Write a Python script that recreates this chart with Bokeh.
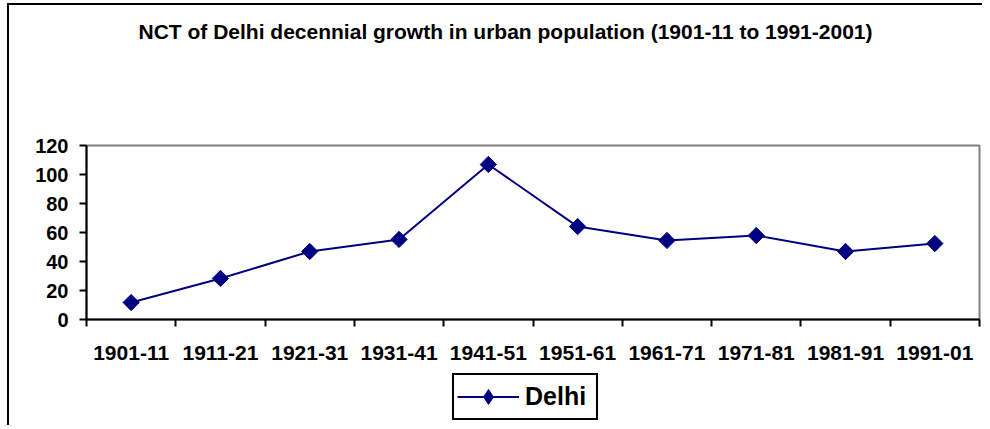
import math
from bokeh.plotting import figure
from bokeh.layouts import column
from bokeh.models import Range1d, FixedTicker, Legend, LegendItem, Label
from bokeh.embed import file_html
from bokeh.resources import INLINE

periods = ["1901-11", "1911-21", "1921-31", "1931-41", "1941-51",
           "1951-61", "1961-71", "1971-81", "1981-91", "1991-01"]
growth = [11.7, 28.3, 46.9, 55.2, 106.9, 64.1, 54.5, 57.9, 46.9, 52.4]
series_name = "Delhi"
title_text = "NCT of Delhi decennial growth in urban population (1901-11 to 1991-2001)"
y_ticks = [0, 20, 40, 60, 80, 100, 120]

FONT = "Liberation Sans"
NAVY = "#000080"
W = 973

x_pos = [i + 0.5 for i in range(len(periods))]


def bare(height):
    f = figure(width=W, height=height, output_backend="svg", toolbar_location=None,
               x_axis_location=None, y_axis_location=None,
               x_range=Range1d(0, 1), y_range=Range1d(0, 1),
               min_border=0)
    f.outline_line_color = None
    f.grid.visible = False
    f.background_fill_color = "white"
    f.border_fill_color = "white"
    return f


# ---- title strip (frame is aligned with the chart frame by the column)
top = bare(128)
top.add_layout(Label(x=419, y=102, x_units="screen", y_units="screen",
                     text=title_text, text_align="center", text_baseline="middle",
                     text_font=FONT, text_font_style="bold",
                     text_font_size="21px", text_color="black"))

# ---- chart
p = figure(width=W, height=238, output_backend="svg", toolbar_location=None,
           x_range=Range1d(0, len(periods)), y_range=Range1d(0, 120),
           min_border_left=77, min_border_right=3, min_border_top=12,
           min_border_bottom=52)
p.xgrid.visible = False
p.ygrid.visible = False
p.outline_line_color = "#808080"
p.outline_line_width = 2
p.background_fill_color = "white"
p.border_fill_color = "white"

line_r = p.line(x_pos, growth, line_color=NAVY, line_width=2)
scat_r = p.scatter(x_pos, growth, marker="square", size=11.5, angle=math.pi / 4,
                   fill_color=NAVY, line_color=NAVY)

xa = p.xaxis[0]
xa.ticker = FixedTicker(ticks=x_pos, minor_ticks=list(range(len(periods) + 1)))
xa.major_label_overrides = {x: lab for x, lab in zip(x_pos, periods)}
xa.major_tick_out = 0
xa.major_tick_in = 0
xa.minor_tick_out = 7
xa.minor_tick_in = 0
xa.minor_tick_line_color = "black"
xa.minor_tick_line_width = 2
xa.axis_line_color = "black"
xa.axis_line_width = 2
xa.major_label_text_font = FONT
xa.major_label_text_font_style = "bold"
xa.major_label_text_font_size = "21px"
xa.major_label_text_color = "black"
xa.major_label_standoff = 19

ya = p.yaxis[0]
ya.ticker = FixedTicker(ticks=y_ticks, minor_ticks=[])
ya.major_tick_out = 7
ya.major_tick_in = 0
ya.major_tick_line_color = "black"
ya.major_tick_line_width = 2
ya.axis_line_color = "black"
ya.axis_line_width = 2
ya.major_label_text_font = FONT
ya.major_label_text_font_style = "bold"
ya.major_label_text_font_size = "20px"
ya.major_label_text_color = "black"
ya.major_label_standoff = 11

# ---- legend strip
bot = bare(54)
bot.x_range = Range1d(0, len(periods))
bot.y_range = Range1d(0, 120)
leg_line = bot.line(x_pos, growth, line_color=NAVY, line_width=2, visible=False)
leg_mark = bot.scatter(x_pos, growth, marker="diamond", size=16,
                       fill_color=NAVY, line_color=NAVY, visible=False)
legend = Legend(items=[LegendItem(label=series_name, renderers=[leg_line, leg_mark])],
                location=(366, 5), orientation="vertical",
                border_line_color="black", border_line_width=2, border_line_alpha=1,
                background_fill_color="white", background_fill_alpha=1,
                padding=3, margin=0, spacing=0, label_standoff=6,
                glyph_width=62, glyph_height=37, label_height=37, label_width=68,
                label_text_font=FONT, label_text_font_style="bold",
                label_text_font_size="25px", label_text_color="black")
bot.add_layout(legend)

page = column(top, p, bot, spacing=0,
              styles={"margin-left": "7px", "margin-top": "3px",
                      "border-left": "2px solid black",
                      "border-top": "2px solid black"})

open("out.html", "w").write(file_html(page, INLINE))
